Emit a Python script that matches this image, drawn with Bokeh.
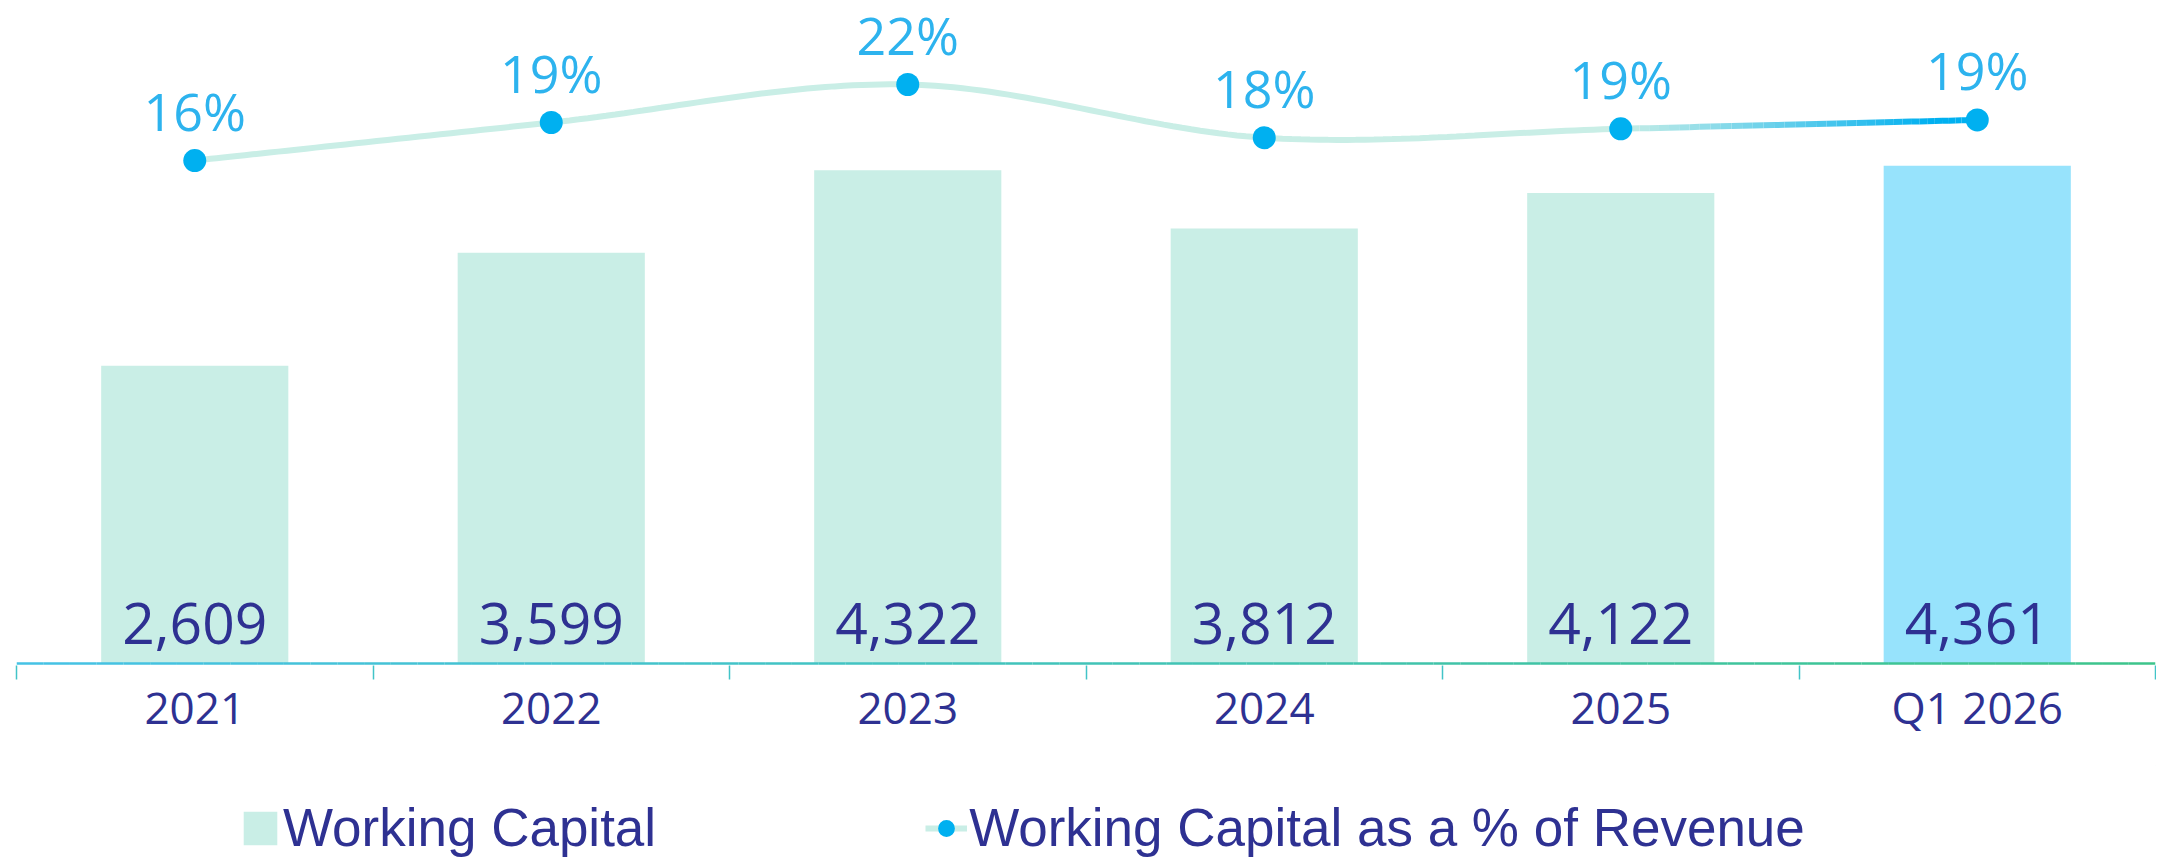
import numpy as np
from bokeh.plotting import figure
from bokeh.layouts import column
from bokeh.models import Range1d, FixedTicker, Legend, LegendItem
from bokeh.core.properties import value
from bokeh.embed import file_html
from bokeh.resources import INLINE

# ---- data ----
categories = ["2021", "2022", "2023", "2024", "2025", "Q1 2026"]
working_capital = [2609, 3599, 4322, 3812, 4122, 4361]
wc_labels = ["2,609", "3,599", "4,322", "3,812", "4,122", "4,361"]
wc_pct = [16.0, 19.0, 22.0, 17.8, 18.5, 19.2]
pct_labels = ["16%", "19%", "22%", "18%", "19%", "19%"]

# ---- style ----
MINT = "#C9EEE6"
LIGHTBLUE = "#97E3FC"
BLUE = "#00B0F0"
PCT_TXT = "#2DB3EE"
NAVY = "#2E3192"
SEGOE_LIKE = "Open Sans"

FRAME_W, FRAME_H = 2139, 665
Y0, Y1 = -17.5, 5810.0
P0, P1 = -23.86, 28.63

n = len(categories)
xs = [i + 0.5 for i in range(n)]
bar_colors = [LIGHTBLUE if c.startswith("Q") else MINT for c in categories]


def hex2rgb(h):
    h = h.lstrip("#")
    return np.array([int(h[i:i + 2], 16) for i in (0, 2, 4)], dtype=float)


def mix(c1, c2, t):
    a, b = hex2rgb(c1), hex2rgb(c2)
    c = a + (b - a) * t
    return "#%02X%02X%02X" % tuple(int(round(v)) for v in c)


def catmull_rom(px, py, k=40):
    P = [np.array(p, dtype=float) for p in zip(px, py)]
    P = [P[0]] + P + [P[-1]]
    segs = []
    t = np.linspace(0, 1, k)[:, None]
    for i in range(1, len(P) - 2):
        p0, p1, p2, p3 = P[i - 1], P[i], P[i + 1], P[i + 2]
        pts = 0.5 * ((2 * p1) + (-p0 + p2) * t + (2 * p0 - 5 * p1 + 4 * p2 - p3) * t ** 2
                     + (-p0 + 3 * p1 - 3 * p2 + p3) * t ** 3)
        segs.append(pts)
    return segs


p = figure(frame_width=FRAME_W, frame_height=FRAME_H,
           x_range=Range1d(0, n), y_range=Range1d(Y0, Y1),
           y_axis_location=None,
           output_backend="svg", toolbar_location=None,
           min_border_left=16, min_border_right=1, min_border_top=0, min_border_bottom=100)
p.extra_y_ranges = {"pct": Range1d(P0, P1)}
p.outline_line_color = None
p.xgrid.visible = False
p.ygrid.visible = False
p.background_fill_color = "white"
p.border_fill_color = "white"

# bars
bars = p.vbar(x=xs, top=working_capital, bottom=0, width=0.525,
              fill_color=bar_colors, line_color=None)

# bar value labels
p.text(x=xs, y=[0] * n, text=wc_labels, y_offset=-40,
       text_align="center", text_baseline="alphabetic",
       text_font=value(SEGOE_LIKE), text_font_size="57px", text_color=NAVY)

# baseline with gradient
K = 80
bx = np.linspace(0, n, K + 1)
p.segment(x0=bx[:-1], y0=np.zeros(K), x1=bx[1:], y1=np.zeros(K),
          line_color=[mix("#45C2E6", "#3DC48A", (i + 0.5) / K) for i in range(K)],
          line_width=2.5)

# smoothed line
segs = catmull_rom(xs, wc_pct)
main = np.vstack([s if j == 0 else s[1:] for j, s in enumerate(segs[:-1])])
line_r = p.line(main[:, 0], main[:, 1], line_color=MINT, line_width=6,
                y_range_name="pct")
last = segs[-1]
m = len(last) - 1
grad_cols = [mix(MINT, BLUE, min(1.0, ((j + 0.5) / m) / 0.8)) for j in range(m)]
p.segment(x0=last[:-1, 0], y0=last[:-1, 1], x1=last[1:, 0], y1=last[1:, 1],
          line_color=grad_cols, line_width=6, y_range_name="pct")

dots = p.scatter(x=xs, y=wc_pct, size=23, fill_color=BLUE, line_color=None,
                 y_range_name="pct")

# percentage labels
p.text(x=xs, y=wc_pct, text=pct_labels, y_range_name="pct", y_offset=-50,
       text_align="center", text_baseline="alphabetic",
       text_font=value(SEGOE_LIKE), text_font_size="52px", text_color=PCT_TXT)

# x axis
ax = p.xaxis[0]
ax.ticker = FixedTicker(ticks=xs, minor_ticks=list(range(n + 1)))
ax.major_label_overrides = {x: c for x, c in zip(xs, categories)}
ax.axis_line_color = None
ax.major_tick_line_color = None
ax.major_tick_in = 0
ax.major_tick_out = 0
ax.minor_tick_in = 0
ax.minor_tick_out = 14
ax.minor_tick_line_color = "#42C4C8"
ax.minor_tick_line_width = 1.5
ax.major_label_standoff = -3
ax.major_label_text_font = SEGOE_LIKE
ax.major_label_text_font_size = "44px"
ax.major_label_text_color = NAVY

# ---- legend strip (separate small figure below the chart) ----
lg = figure(width=2156, height=94, x_range=Range1d(0, 1), y_range=Range1d(0, 1),
            output_backend="svg", toolbar_location=None,
            x_axis_location=None, y_axis_location=None,
            min_border=0, min_border_left=0, min_border_right=0,
            min_border_top=0, min_border_bottom=0)
lg.outline_line_color = None
lg.xgrid.visible = False
lg.ygrid.visible = False
lg.background_fill_color = "white"
lg.border_fill_color = "white"
# legend key glyphs, styled like the chart's glyphs, kept outside the visible range
key_bar = lg.vbar(x=[5], top=[5], bottom=[4], width=0.5, fill_color=MINT, line_color=None)
key_line = lg.line(x=[5, 6], y=[5, 5], line_color=MINT, line_width=6)
key_dot = lg.scatter(x=[5], y=[5], size=23, fill_color=BLUE, line_color=None)

legend = Legend(items=[LegendItem(label="Working Capital", renderers=[key_bar]),
                       LegendItem(label="Working Capital as a % of Revenue",
                                  renderers=[key_line, key_dot])],
                orientation="horizontal", location=(223, 1),
                spacing=269, label_standoff=2, glyph_width=42, glyph_height=42,
                padding=0, margin=0, border_line_color=None,
                background_fill_alpha=0,
                label_text_font="Liberation Sans", label_text_font_size="53px",
                label_text_color=NAVY)
lg.add_layout(legend, "center")

layout = column(p, lg, spacing=0)
open("out.html", "w").write(file_html(layout, INLINE))
